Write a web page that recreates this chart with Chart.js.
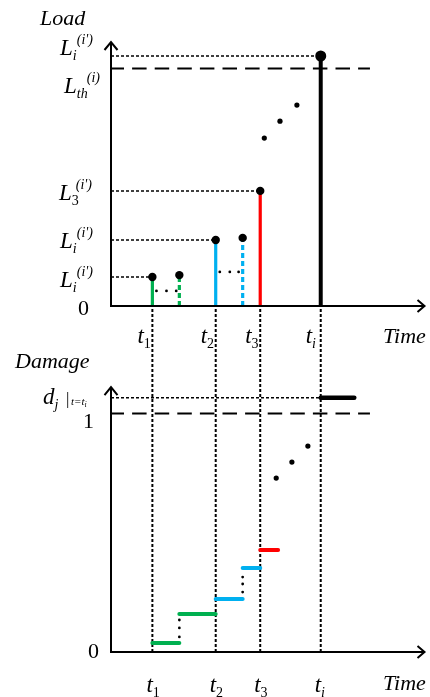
<!DOCTYPE html>
<html>
<head>
<meta charset="utf-8">
<title>Load and damage over time</title>
<script src="https://cdn.jsdelivr.net/npm/chart.js@4.4.1/dist/chart.umd.min.js"></script>
<style>
    html, body { margin: 0; padding: 0; background: #fff; }
    #wrap { width: 430px; height: 697px; }
</style>
</head>
<body>
<div id="wrap"><canvas id="chart" width="430" height="697"></canvas></div>
<script>
// load events t1, t2, t3, ti
const eventTimes = [1.32, 3.34, 4.76, 6.69];
const eventNames = ['1', '2', '3', 'i'];
const eventLoads = [1.10, 2.50, 4.36, 9.47];

// repeated loads (dashed stems)
const repeatTimes = [2.18, 4.20];
const repeatLoads = [1.17, 2.58];

const loadThreshold = 9.0;
const loadMax = 10;

// small dots between a load and its repeat
const loadGapTimes = [[1.45, 1.77, 2.08], [3.47, 3.79, 4.07]];
const loadGapValues = [0.57, 1.29];

// "..." in the load panel
const loadEllipsisTimes = [4.89, 5.39, 5.93];
const loadEllipsisValues = [6.36, 7.00, 7.61];

// damage steps
const stepStarts = [1.32, 2.18, 3.34, 4.20, 4.76, 6.69];
const stepEnds = [2.18, 3.34, 4.20, 4.76, 5.33, 7.76];
const stepDamage = [0.038, 0.159, 0.222, 0.352, 0.427, 1.065];

const damageThreshold = 1.0;
const damageMax = 1.45;
const damageArrow = 1.11;

// vertical dots between two steps (at the repeat times)
const damageGapValues = [[0.134, 0.101, 0.063], [0.314, 0.285, 0.251]];

// "..." in the damage panel
const damageEllipsisTimes = [5.27, 5.77, 6.28];
const damageEllipsisValues = [0.729, 0.796, 0.863];

const timeMax = 10;
const thresholdEnd = 8.26;

const GREEN = '#00b050';
const BLUE = '#00b0f0';
const RED = '#ff0000';
const BLACK = '#000000';
const eventColors = [GREEN, BLUE, RED, BLACK];
const repeatColors = [GREEN, BLUE];
const stepColors = [GREEN, GREEN, BLUE, BLUE, RED, BLACK];

const SERIF = '"Liberation Serif", "Times New Roman", serif';

function seg(x1, y1, x2, y2) {
    return [{ x: x1, y: y1 }, { x: x2, y: y2 }];
}

function lineSet(data, axis, color, width, dash, extra) {
    return Object.assign({
        data: data,
        yAxisID: axis,
        showLine: true,
        borderColor: color,
        borderWidth: width,
        borderDash: dash || [],
        pointRadius: 0,
        pointHoverRadius: 0,
        order: 2
    }, extra || {});
}

function dotSet(points, axis, radius) {
    return {
        data: points,
        yAxisID: axis,
        showLine: false,
        pointRadius: radius,
        pointHoverRadius: 0,
        pointBackgroundColor: BLACK,
        pointBorderWidth: 0,
        order: 0
    };
}

const DOTTED = [3, 2];
const DASHED = [14.5, 8.1];

function buildDatasets() {
    const sets = [];

    // ---- load panel ----
    eventTimes.forEach((t, i) => {
        sets.push(lineSet(seg(0, eventLoads[i], t, eventLoads[i]), 'yLoad', BLACK, 1.5, DOTTED, { order: 3 }));
        sets.push(lineSet(seg(t, 0, t, eventLoads[i]), 'yLoad', eventColors[i], i === 3 ? 4 : 3.2, [], { order: 1 }));
    });
    repeatTimes.forEach((t, i) => {
        sets.push(lineSet(seg(t, 0, t, repeatLoads[i]), 'yLoad', repeatColors[i], 3.2, [5, 3], { order: 1 }));
    });
    sets.push(lineSet(seg(0, loadThreshold, thresholdEnd, loadThreshold), 'yLoad', BLACK, 2, DASHED,
        { order: 3, borderDashOffset: 1.5 }));

    const peaks = eventTimes.map((t, i) => ({ x: t, y: eventLoads[i] }))
        .concat(repeatTimes.map((t, i) => ({ x: t, y: repeatLoads[i] })));
    sets.push(dotSet(peaks, 'yLoad', peaks.map((p, i) => i === 3 ? 5.5 : 4.2)));

    loadGapTimes.forEach((times, i) => {
        sets.push(dotSet(times.map(t => ({ x: t, y: loadGapValues[i] })), 'yLoad', 1.4));
    });
    sets.push(dotSet(loadEllipsisTimes.map((t, i) => ({ x: t, y: loadEllipsisValues[i] })), 'yLoad', 2.6));

    // ---- damage panel ----
    eventTimes.forEach(t => {
        sets.push(lineSet(seg(t, 0, t, damageMax), 'yDamage', BLACK, 2, DOTTED, { order: 3 }));
    });
    sets.push(lineSet(seg(0, stepDamage[5], eventTimes[3], stepDamage[5]), 'yDamage', BLACK, 1.5, DOTTED, { order: 3 }));
    sets.push(lineSet(seg(0, damageThreshold, thresholdEnd, damageThreshold), 'yDamage', BLACK, 2, DASHED,
        { order: 3, borderDashOffset: 1.5 }));

    stepStarts.forEach((s, i) => {
        sets.push(lineSet(seg(s, stepDamage[i], stepEnds[i], stepDamage[i]), 'yDamage', stepColors[i],
            i === 5 ? 4.5 : 4, [], { order: 1, borderCapStyle: 'round' }));
    });

    damageGapValues.forEach((vals, i) => {
        sets.push(dotSet(vals.map(v => ({ x: repeatTimes[i], y: v })), 'yDamage', 1.4));
    });
    sets.push(dotSet(damageEllipsisTimes.map((t, i) => ({ x: t, y: damageEllipsisValues[i] })), 'yDamage', 2.6));

    return sets;
}

function font(size, italic) {
    return (italic ? 'italic ' : '') + size + 'px ' + SERIF;
}

// main symbol with optional subscript / superscript
function symbol(ctx, x, y, main, sub, sup, supGap) {
    ctx.font = font(23, true);
    ctx.fillText(main, x, y);
    const w = ctx.measureText(main).width;
    if (sub) {
        ctx.font = font(14, !/^\d+$/.test(sub));
        ctx.fillText(sub, x + w, y + 5);
    }
    if (sup) {
        ctx.font = font(14, true);
        ctx.fillText(sup, x + w + (supGap || 4), y - 11);
    }
}

const axesPlugin = {
    id: 'sketchAxes',
    afterDatasetsDraw(chart) {
        const { ctx, scales } = chart;
        const x = scales.x;
        const left = x.getPixelForValue(0);
        const right = x.right;
        ctx.save();
        ctx.strokeStyle = BLACK;
        ctx.lineWidth = 2;
        ctx.setLineDash([]);
        [[scales.yLoad, loadMax], [scales.yDamage, damageArrow]].forEach(([ys, top]) => {
            const y0 = ys.getPixelForValue(0);
            const yt = ys.getPixelForValue(top);
            ctx.beginPath();
            ctx.moveTo(left, y0);
            ctx.lineTo(left, yt);
            ctx.moveTo(left - 1, y0);
            ctx.lineTo(right, y0);
            ctx.stroke();
            ctx.beginPath();
            ctx.moveTo(left - 6.5, yt + 8);
            ctx.lineTo(left, yt);
            ctx.lineTo(left + 6.5, yt + 8);
            ctx.moveTo(right - 7, y0 - 6);
            ctx.lineTo(right, y0);
            ctx.lineTo(right - 7, y0 + 6);
            ctx.stroke();
        });
        ctx.restore();
    },
    afterDraw(chart) {
        const { ctx, scales } = chart;
        const x = scales.x;
        const yL = v => scales.yLoad.getPixelForValue(v);
        const yD = v => scales.yDamage.getPixelForValue(v);
        ctx.save();
        ctx.fillStyle = BLACK;
        ctx.textAlign = 'left';
        ctx.textBaseline = 'alphabetic';

        // load panel
        ctx.font = font(22, true);
        ctx.fillText('Load', 40, 25);
        symbol(ctx, 60, yL(eventLoads[3]) - 1, 'L', 'i', "(i')");
        symbol(ctx, 64, yL(loadThreshold) + 25, 'L', 'th', '(i)', 10);
        symbol(ctx, 59, yL(eventLoads[2]) + 9, 'L', '3', "(i')");
        symbol(ctx, 60, yL(eventLoads[1]) + 8, 'L', 'i', "(i')");
        symbol(ctx, 60, yL(eventLoads[0]) + 10, 'L', 'i', "(i')");
        ctx.font = font(22, false);
        ctx.textAlign = 'right';
        ctx.fillText('0', 89, yL(0) + 9);
        ctx.textAlign = 'left';

        const loadBase = yL(0) + 37;
        eventTimes.forEach((t, i) => symbol(ctx, x.getPixelForValue(t) - 15, loadBase, 't', eventNames[i]));
        ctx.font = font(22, true);
        ctx.fillText('Time', 383, loadBase);

        // damage panel
        ctx.fillText('Damage', 15, 368);
        symbol(ctx, 43, yD(stepDamage[5]) + 6, 'd', 'j');
        ctx.font = font(17, false);
        ctx.fillText('|', 66, yD(stepDamage[5]) + 6);
        ctx.font = font(11, true);
        ctx.fillText('t=t', 71, yD(stepDamage[5]) + 7);
        const w = ctx.measureText('t=t').width;
        ctx.font = font(8, true);
        ctx.fillText('i', 71 + w, yD(stepDamage[5]) + 9);

        ctx.font = font(22, false);
        ctx.textAlign = 'right';
        ctx.fillText('1', 94, yD(damageThreshold) + 15);
        ctx.fillText('0', 99, yD(0) + 6);
        ctx.textAlign = 'left';

        const damageBase = yD(0) + 40;
        eventTimes.forEach((t, i) => symbol(ctx, x.getPixelForValue(t) - 6, damageBase, 't', eventNames[i]));
        ctx.font = font(22, true);
        ctx.fillText('Time', 383, damageBase - 2);

        ctx.restore();
    }
};

new Chart(document.getElementById('chart'), {
    type: 'scatter',
    data: { datasets: buildDatasets() },
    options: {
        responsive: false,
        animation: false,
        events: [],
        layout: { padding: { left: 111, right: 2, top: 42, bottom: 45 } },
        plugins: { legend: { display: false }, tooltip: { enabled: false } },
        scales: {
            x: { type: 'linear', min: 0, max: timeMax, display: false },
            yLoad: {
                type: 'linear', position: 'left', stack: 'panels', stackWeight: 264, weight: 2,
                min: 0, max: loadMax, display: false
            },
            yDamage: {
                type: 'linear', position: 'left', stack: 'panels', stackWeight: 346, weight: 1,
                min: 0, max: damageMax, display: false
            }
        }
    },
    plugins: [axesPlugin]
});
</script>
</body>
</html>
